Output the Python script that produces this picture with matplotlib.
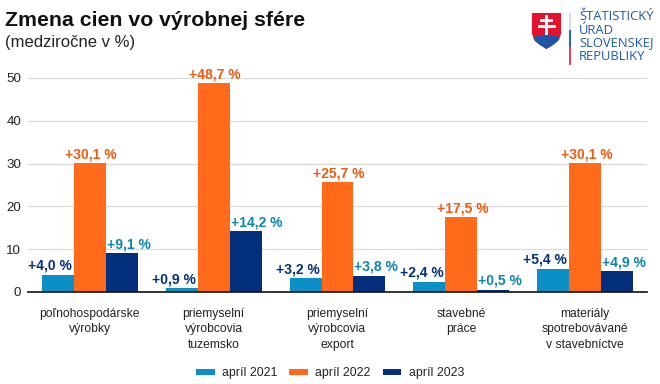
import matplotlib
matplotlib.use('Agg')
import matplotlib.pyplot as plt
import numpy as np
from matplotlib.patches import Polygon, Rectangle

plt.rcParams['font.family'] = ['Liberation Sans', 'DejaVu Sans']

categories = ['poľnohospodárske\nvýrobky', 'priemyselní\nvýrobcovia\ntuzemsko',
              'priemyselní\nvýrobcovia\nexport', 'stavebné\npráce',
              'materiály\nspotrebovávané\nv stavebníctve']
series_names = ['apríl 2021', 'apríl 2022', 'apríl 2023']
values_2021 = [4.0, 0.9, 3.2, 2.4, 5.4]
values_2022 = [30.1, 48.7, 25.7, 17.5, 30.1]
values_2023 = [9.1, 14.2, 3.8, 0.5, 4.9]
yticks = [0, 10, 20, 30, 40, 50]

bar_colors = ['#0a8fc7', '#ff6b1a', '#032f7d']
label_colors = ['#032f7d', '#ee5a12', '#0a86ad']
W, H = 660, 384

fig = plt.figure(figsize=(6.6, 3.84), dpi=100)
ax = fig.add_axes([28 / W, 1 - 292 / H, 619 / W, 224 / H])

x = np.arange(len(categories))
bar_w = 0.258
for i, vals in enumerate([values_2021, values_2022, values_2023]):
    pos = x + (i - 1) * bar_w
    ax.bar(pos, vals, bar_w, color=bar_colors[i], label=series_names[i], zorder=3)
    for p, v in zip(pos, vals):
        txt = '+' + f'{v:.1f}'.replace('.', ',') + ' %'
        # side labels hang off the outer edge of their bar
        if i == 0:
            tx, ha = p + bar_w / 2 - 0.015, 'right'
        elif i == 2:
            tx, ha = p - bar_w / 2 + 0.008, 'left'
        else:
            tx, ha = p + 0.01, 'center'
        ax.text(tx, v + 0.45, txt, ha=ha, va='bottom', color=label_colors[i],
                fontsize=10, fontweight='bold', zorder=4)

ax.set_xlim(-0.5, 4.5)
ax.set_ylim(0, 52.3)
ax.set_yticks(yticks)
ax.set_xticks(x)
ax.set_xticklabels(categories, fontsize=8.7, color='#222222', linespacing=1.38)
ax.tick_params(axis='x', length=0, pad=11.5)
ax.tick_params(axis='y', length=0, pad=5, labelsize=9.6, labelcolor='#222222')
ax.grid(axis='y', color='#d9d9d9', lw=0.9, zorder=0)
ax.set_axisbelow(True)
for s in ['top', 'right', 'left']:
    ax.spines[s].set_visible(False)
ax.spines['bottom'].set_color('#111111')
ax.spines['bottom'].set_linewidth(1.2)
ax.spines['bottom'].set_zorder(5)

ax.legend(loc='lower center', bbox_to_anchor=(0.488, -0.44), ncol=3, frameon=False,
          fontsize=8.9, handlelength=1.5, handleheight=0.3, columnspacing=0.95,
          handletextpad=0.6, labelcolor='#222222')

fig.text(5 / W, 1 - 20 / H, 'Zmena cien vo výrobnej sfére', fontsize=15.3, fontweight='bold',
         va='center', color='#111111')
fig.text(5 / W, 1 - 42 / H, '(medziročne v %)', fontsize=12, va='center', color='#222222')

# logo drawn in pixel coordinates of the figure
logo = fig.add_axes([0, 0, 1, 1], zorder=10)
logo.set_xlim(0, W)
logo.set_ylim(H, 0)
logo.axis('off')
shield = [(532, 13), (561, 13), (561, 34), (558, 41), (553, 45), (546.5, 49), (540, 45), (535, 41), (532, 34)]
logo.add_patch(Polygon(shield, fc='#e8112d', ec='none'))
hills = [(533, 38), (537, 35), (541, 36), (546.5, 33.5), (552, 36), (556, 35), (560, 38),
         (558, 41), (553, 45), (546.5, 49), (540, 45), (535, 41)]
logo.add_patch(Polygon(hills, fc='#1f55a5', ec='none'))
for r in [(545, 15, 3.4, 20), (540, 19, 13.4, 2.8), (537.5, 24.5, 18.4, 3)]:
    logo.add_patch(Rectangle((r[0], r[1]), r[2], r[3], fc='white', ec='none'))
logo.add_patch(Rectangle((569.3, 13), 1.5, 17, fc='#d9dde0', ec='none'))
logo.add_patch(Rectangle((569.3, 30), 1.5, 17, fc='#2a66b5', ec='none'))
logo.add_patch(Rectangle((569.3, 47), 1.5, 18, fc='#e8405a', ec='none'))
for yy, t in zip([17, 30, 43, 57], ['ŠTATISTICKÝ', 'ÚRAD', 'SLOVENSKEJ', 'REPUBLIKY']):
    logo.text(579, yy, t, fontsize=9.4, color='#1f5aa8', va='center', ha='left',
              family=['Open Sans', 'DejaVu Sans'])

fig.savefig('out.png', dpi=100)
